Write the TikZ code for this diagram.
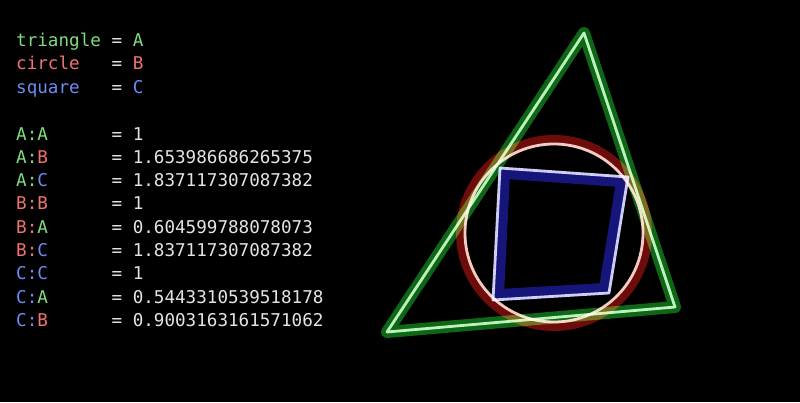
\documentclass[tikz,border=0pt]{standalone}
\usepackage{fontspec}
\setmonofont{DejaVu Sans Mono}
\definecolor{tg}{HTML}{7EDC7E}
\definecolor{tr}{HTML}{F07272}
\definecolor{tb}{HTML}{6C8CF4}
\definecolor{tw}{HTML}{E4E4E4}
\definecolor{dgreen}{HTML}{0F6616}
\definecolor{lgreen}{HTML}{B4EAB4}
\definecolor{dred}{HTML}{6E0C0C}
\definecolor{lred}{HTML}{EAC8C0}
\definecolor{dblue}{HTML}{16167A}
\definecolor{lblue}{HTML}{CCCCF4}
\begin{document}
\begin{tikzpicture}[x=1pt,y=-1pt,
  txt/.style={anchor=base west,inner sep=0pt,font=\ttfamily\fontsize{17.6}{20}\selectfont,text=tw},
  glowd/.style={line width=12pt,line join=round},
  glowl/.style={line width=2.8pt,line join=round}]
\fill[black] (0,0) rectangle (800,402);
\useasboundingbox (0,0) rectangle (800,402);
% text lines
\node[txt] (l1) at (16,46) {\textcolor{tg}{triangle} = \textcolor{tg}{A}};
\node[txt] (l2) at (16,69) {\textcolor{tr}{circle}\ \ \ = \textcolor{tr}{B}};
\node[txt] (l3) at (16,93) {\textcolor{tb}{square}\ \ \ = \textcolor{tb}{C}};
\node[txt] (l4) at (16,140) {\textcolor{tg}{A:A}\ \ \ \ \ \ = 1};
\node[txt] (l5) at (16,163) {\textcolor{tg}{A:}\textcolor{tr}{B}\ \ \ \ \ \ = 1.653986686265375};
\node[txt] (l6) at (16,186) {\textcolor{tg}{A:}\textcolor{tb}{C}\ \ \ \ \ \ = 1.837117307087382};
\node[txt] (l7) at (16,209) {\textcolor{tr}{B:B}\ \ \ \ \ \ = 1};
\node[txt] (l8) at (16,233) {\textcolor{tr}{B:}\textcolor{tg}{A}\ \ \ \ \ \ = 0.604599788078073};
\node[txt] (l9) at (16,256) {\textcolor{tr}{B:}\textcolor{tb}{C}\ \ \ \ \ \ = 1.837117307087382};
\node[txt] (l10) at (16,279) {\textcolor{tb}{C:C}\ \ \ \ \ \ = 1};
\node[txt] (l11) at (16,303) {\textcolor{tb}{C:}\textcolor{tg}{A}\ \ \ \ \ \ = 0.5443310539518178};
\node[txt] (l12) at (16,326) {\textcolor{tb}{C:}\textcolor{tr}{B}\ \ \ \ \ \ = 0.9003163161571062};
% shapes
\coordinate (t1) at (584,33);
\coordinate (t2) at (675,307);
\coordinate (t3) at (387,332);
\coordinate (cc) at (554,233);
\coordinate (s1) at (500,168);
\coordinate (s2) at (628,177);
\coordinate (s3) at (609,293);
\coordinate (s4) at (493,300);
\begin{scope}[blend group=screen]
\draw[glowd,dgreen] (t1) -- (t2) -- (t3) -- cycle;
\draw[line width=10pt,dred] (cc) circle[radius=93];
\draw[line width=10pt,dblue,line join=miter] (505,174) -- (621,182) -- (604,288) -- (499,294) -- cycle;
\draw[glowl,lgreen] (t1) -- (t2) -- (t3) -- cycle;
\draw[glowl,lred] (cc) circle[radius=89];
\draw[glowl,lblue] (s1) -- (s2) -- (s3) -- (s4) -- cycle;
\end{scope}
\end{tikzpicture}
\end{document}
